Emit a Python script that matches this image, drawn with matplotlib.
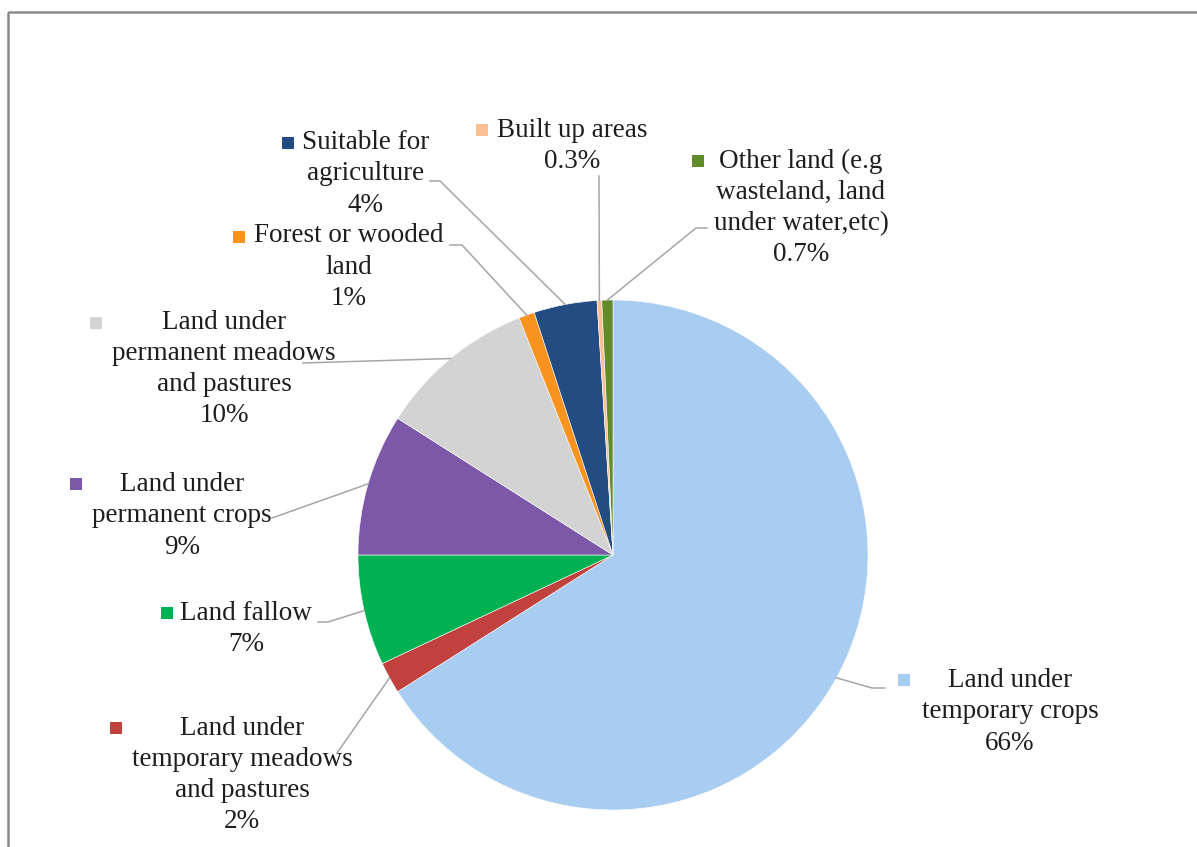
import matplotlib
matplotlib.use("Agg")
import matplotlib.pyplot as plt
from matplotlib.patches import Rectangle
import numpy as np

# data (clockwise from 12 o'clock)
categories = [
    "Land under\ntemporary crops",
    "Land under\ntemporary meadows\nand pastures",
    "Land fallow",
    "Land under\npermanent crops",
    "Land under\npermanent meadows\nand pastures",
    "Forest or wooded\nland",
    "Suitable for\nagriculture",
    "Built up areas",
    "Other land (e.g\nwasteland, land\nunder water,etc)",
]
values = [66, 2, 7, 9, 10, 1, 4, 0.3, 0.7]
colors = ["#A9CDF1", "#C0413D", "#00B152", "#7D58A9", "#D3D3D3",
          "#F7931E", "#234C82", "#FAC094", "#628B2C"]

# layout (pixel coords, y down)
W, H = 1197, 847
CX, CY, R = 613, 555, 255
text_pos = [(1010, 712), (242, 775), (246, 629), (182, 516), (224, 369),
            (349, 267), (366, 174), (572, 146), (801, 208)]
key_pos = [(904, 680), (116, 728), (167, 613), (76, 484), (96, 323),
           (239, 237), (288, 143), (482, 130), (698, 161)]
# text end of each leader line (+ optional elbow)
leader_start = [[(885, 688), (872, 688)], [(337, 753)], [(318, 622), (328, 622)],
                [(272, 518)], [(303, 363)], [(450, 245), (462, 245)],
                [(430, 181), (440, 181)], [(599, 176)], [(707, 228), (696, 228)]]


def main():
    plt.rcParams['font.family'] = ['Liberation Serif', 'DejaVu Serif']
    fig = plt.figure(figsize=(W / 100, H / 100), dpi=100)
    ax = fig.add_axes([0, 0, 1, 1])

    ax.pie(values, colors=colors, startangle=-90, counterclock=True,
           center=(CX, CY), radius=R,
           wedgeprops=dict(edgecolor="white", linewidth=0.4))
    ax.set_xlim(0, W)
    ax.set_ylim(H, 0)
    ax.set_aspect("equal")
    ax.axis("off")

    # outer frame
    ax.add_patch(Rectangle((8, 12), 1400, 1000, fill=False,
                           edgecolor="#8a8a8a", linewidth=1.8, zorder=0))

    cum = np.cumsum([0] + values[:-1])
    total = float(sum(values))
    for i, v in enumerate(values):
        mid = -90 + 360 * (cum[i] + v / 2) / total
        ex = CX + R * np.cos(np.radians(mid))
        ey = CY + R * np.sin(np.radians(mid))
        pts = leader_start[i] + [(ex, ey)]
        ax.plot([p[0] for p in pts], [p[1] for p in pts], color="#A6A6A6",
                lw=1.1, zorder=1)

        tx, ty = text_pos[i]
        ax.text(tx, ty, f"{categories[i]}\n{v:g}%", ha="center", va="center",
                fontsize=19.5, color="#1e1e1e", linespacing=1.32)
        kx, ky = key_pos[i]
        ax.scatter([kx], [ky], marker="s", s=85, color=colors[i], zorder=3,
                   linewidths=0)

    fig.savefig("out.png", dpi=100)


if __name__ == "__main__":
    main()
